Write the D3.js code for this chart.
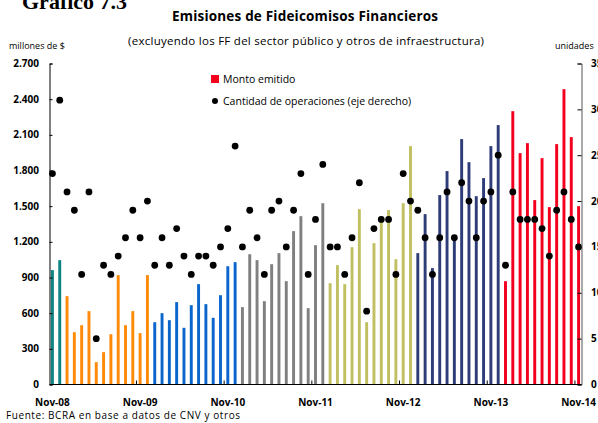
<!DOCTYPE html>
<html>
<head>
<meta charset="utf-8">
<script src="https://cdn.jsdelivr.net/npm/d3@7"></script>
<style>
  body { margin: 0; background: #fff; }
  svg { display: block; }
  text { font-family: "Open Sans", Lato, sans-serif; fill: #000; }
</style>
</head>
<body>
<div id="chart"><svg width="598" height="423"></svg></div>
<script>
// months Nov-08 .. Nov-14
var months = [];
var monthNames = ["Ene","Feb","Mar","Abr","May","Jun","Jul","Ago","Sep","Oct","Nov","Dic"];
for (var k = 0; k < 73; k++) {
    var m = (10 + k) % 12, y = 8 + Math.floor((10 + k) / 12);
    months.push(monthNames[m] + "-" + (y < 10 ? "0" + y : y));
}

// Monto emitido (millones de $)
var monto = [
    962, 1046,
    743, 440, 499, 617, 188, 272, 423, 920, 499, 617, 432, 920,
    524, 600, 541, 693, 477, 667, 844, 676, 561, 751, 995, 1029,
    651, 1096, 1046, 701, 1012, 1105, 869, 1290, 1416, 642, 1172, 1525,
    852, 1004, 844, 1155, 1475, 524, 1189, 1366, 1467, 1054, 1525, 2005,
    1105, 1433, 979, 1593, 1795, 1230, 2064, 1870, 1584, 1736, 2005, 2182,
    869, 2299, 1946, 2030, 1551, 1904, 1492, 2022, 2484, 2081, 1500
];

// Cantidad de operaciones (eje derecho)
var cantidad = [
    23, 31,
    21, 19, 12, 21, 5, 13, 12, 14, 16, 19, 16, 20,
    13, 16, 13, 17, 14, 12, 14, 14, 13, 15, 17, 26,
    15, 19, 16, 12, 19, 20, 15, 19, 23, 12, 18, 24,
    15, 15, 12, 16, 22, 8, 17, 18, 18, 12, 23, 20,
    19, 16, 12, 16, 21, 16, 22, 20, 16, 20, 21, 25,
    13, 21, 18, 18, 18, 17, 14, 19, 21, 18, 15
];

// year colours (Nov-Dic 08, 2009 ... 2014)
var yearColors = {"08": "#0e8585", "09": "#ff8a0a", "10": "#0a66cc", "11": "#808080",
                  "12": "#c0c062", "13": "#2e3c78", "14": "#f2001e"};

var leftTicks = [0, 300, 600, 900, 1200, 1500, 1800, 2100, 2400, 2700];
var rightTicks = [0, 5, 10, 15, 20, 25, 30, 35];
var xLabels = ["Nov-08", "Nov-09", "Nov-10", "Nov-11", "Nov-12", "Nov-13", "Nov-14"];

var svg = d3.select("#chart").select("svg");
var locale = d3.formatLocale({decimal: ",", thousands: ".", grouping: [3], currency: ["$", ""]});
var fmt = locale.format(",");

var plot = { left: 49.5, right: 581.5, top: 63.5, bottom: 384.5 };

var x = d3.scaleBand()
    .domain(months)
    .range([plot.left, plot.right])
    .paddingInner(0.6)
    .paddingOuter(0.2)
    .align(0.5);

var yL = d3.scaleLinear().domain([0, 2700]).range([plot.bottom, plot.top]);
var yR = d3.scaleLinear().domain([0, 35]).range([plot.bottom, plot.top]);

// header texts
svg.append("text").attr("x", 22).attr("y", 9)
    .style("font-family", "'Liberation Serif', serif")
    .style("font-weight", "bold").style("font-size", "22px")
    .text("Gráfico 7.3");
svg.append("text").attr("x", 172).attr("y", 21)
    .attr("textLength", 266).attr("lengthAdjust", "spacing")
    .style("font-weight", "bold").style("font-size", "13.5px")
    .text("Emisiones de Fideicomisos Financieros");
svg.append("text").attr("x", 128).attr("y", 45)
    .attr("textLength", 356).attr("lengthAdjust", "spacing")
    .style("font-size", "11.5px")
    .text("(excluyendo los FF del sector público y otros de infraestructura)");
svg.append("text").attr("x", 9).attr("y", 49).style("font-size", "9px").text("millones de $");
svg.append("text").attr("x", 555).attr("y", 49).style("font-size", "9px").text("unidades");
svg.append("text").attr("x", 6).attr("y", 419)
    .attr("textLength", 234).attr("lengthAdjust", "spacing")
    .style("font-size", "10px")
    .text("Fuente: BCRA en base a datos de CNV y otros");

// bars
svg.append("g").selectAll("rect")
    .data(monto)
    .enter()
    .append("rect")
    .attr("x", function(d, i) { return x(months[i]); })
    .attr("width", x.bandwidth())
    .attr("y", function(d) { return yL(d); })
    .attr("height", function(d) { return plot.bottom - yL(d); })
    .attr("fill", function(d, i) { return yearColors[months[i].slice(-2)]; });

// dots
svg.append("g").selectAll("circle")
    .data(cantidad)
    .enter()
    .append("circle")
    .attr("cx", function(d, i) { return x(months[i]) + x.bandwidth() / 2; })
    .attr("cy", function(d) { return yR(d); })
    .attr("r", 3.4)
    .attr("fill", "#000");

// left axis
var leftAxis = svg.append("g")
    .attr("transform", "translate(" + plot.left + ",0)")
    .call(d3.axisRight(yL).tickValues(leftTicks).tickSize(3).tickFormat(""));
leftAxis.select(".domain").attr("stroke", "#000");
svg.append("g").selectAll("text")
    .data(leftTicks)
    .enter()
    .append("text")
    .attr("x", 39)
    .attr("y", function(d) { return yL(d) + 3.5; })
    .attr("text-anchor", "end")
    .style("font-weight", "bold").style("font-size", "10px")
    .text(function(d) { return fmt(d); });

// right axis
var rightAxis = svg.append("g")
    .attr("transform", "translate(" + plot.right + ",0)")
    .call(d3.axisLeft(yR).tickValues(rightTicks).tickSize(4).tickFormat(""));
rightAxis.select(".domain").attr("stroke", "#555");
svg.append("g").selectAll("text")
    .data(rightTicks)
    .enter()
    .append("text")
    .attr("x", 591)
    .attr("y", function(d) { return yR(d) + 3.5; })
    .style("font-weight", "bold").style("font-size", "10px")
    .text(function(d) { return d; });

// bottom axis
var step = x.step();
svg.append("line")
    .attr("x1", plot.left).attr("x2", plot.right)
    .attr("y1", plot.bottom).attr("y2", plot.bottom)
    .attr("stroke", "#000");
svg.append("g").selectAll("line")
    .data(xLabels.slice(1))
    .enter()
    .append("line")
    .attr("x1", function(d) { return x(d) - step * x.paddingInner() / 2; })
    .attr("x2", function(d) { return x(d) - step * x.paddingInner() / 2; })
    .attr("y1", plot.bottom).attr("y2", plot.bottom - 4)
    .attr("stroke", "#000");
svg.append("g").selectAll("text")
    .data(xLabels)
    .enter()
    .append("text")
    .attr("x", function(d) { return x(d) + x.bandwidth() / 2; })
    .attr("y", 406)
    .attr("text-anchor", "middle")
    .style("font-weight", "bold").style("font-size", "10px")
    .text(function(d) { return d; });

// legend
var legend = svg.append("g").attr("transform", "translate(211,75)");
legend.append("rect").attr("x", 0).attr("y", 0).attr("width", 8).attr("height", 8).attr("fill", "#f2001e");
legend.append("text").attr("x", 12).attr("y", 8).style("font-size", "10.5px").text("Monto emitido");
legend.append("circle").attr("cx", 4).attr("cy", 26).attr("r", 3).attr("fill", "#000");
legend.append("text").attr("x", 12).attr("y", 30).style("font-size", "10.5px")
    .text("Cantidad de operaciones (eje derecho)");
</script>
</body>
</html>
